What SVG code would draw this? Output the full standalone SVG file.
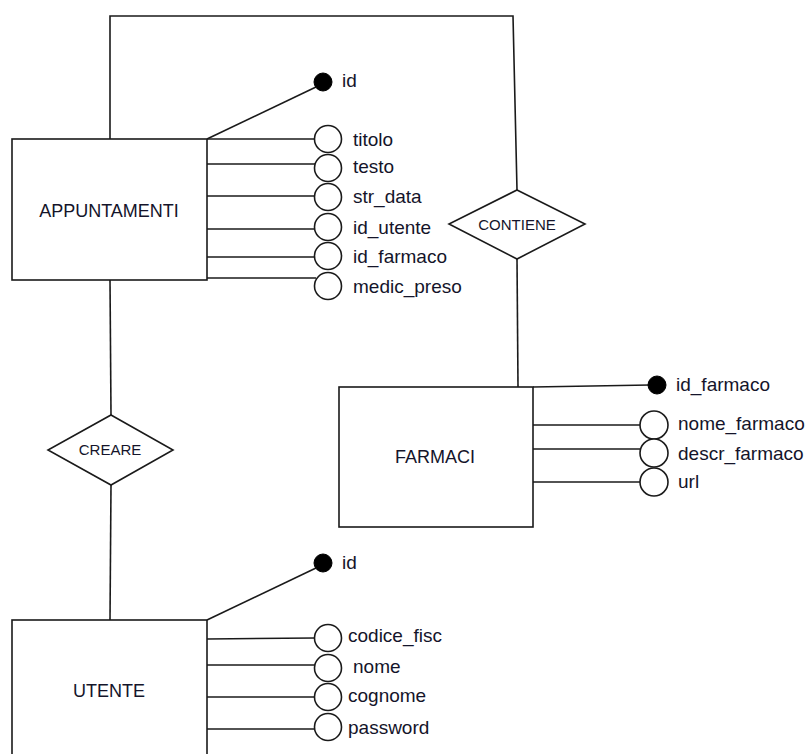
<svg xmlns="http://www.w3.org/2000/svg" width="809" height="754" viewBox="0 0 809 754">
<style>
.ln{stroke:#1a1a1a;stroke-width:1.6;fill:none}
.box{stroke:#1a1a1a;stroke-width:1.6;fill:#fff}
.att{stroke:#1a1a1a;stroke-width:1.6;fill:#fff}
.key{fill:#000;stroke:#000;stroke-width:1}
.t{font-family:"Liberation Sans",Arial,sans-serif;fill:#14142a}
.a{font-size:19px}
.e{font-size:18px;text-anchor:middle}
.r{font-size:15px;text-anchor:middle}
</style>
<rect width="809" height="754" fill="#fff"/>
<g id="connectors">
<polyline class="ln" points="110,139 110,16 513,16 517,190"/>
<line class="ln" x1="517" y1="259" x2="518" y2="387"/>
<line class="ln" x1="110" y1="280" x2="111" y2="415"/>
<line class="ln" x1="111" y1="485" x2="110" y2="620"/>
</g>
<g id="appuntamenti">
<line class="ln" x1="207" y1="139" x2="316" y2="87"/>
<line class="ln" x1="207" y1="139" x2="315" y2="139"/>
<line class="ln" x1="207" y1="164" x2="315" y2="164"/>
<line class="ln" x1="207" y1="196" x2="315" y2="196"/>
<line class="ln" x1="207" y1="229" x2="315" y2="229"/>
<line class="ln" x1="207" y1="257" x2="315" y2="257"/>
<line class="ln" x1="207" y1="278" x2="316" y2="278"/>
<rect class="box" x="12" y="139" width="195" height="141"/>
<text class="t e" x="109" y="217">APPUNTAMENTI</text>
<circle class="key" cx="323" cy="82" r="9"/>
<text class="t a" x="342" y="87">id</text>
<circle class="att" cx="328" cy="139" r="13.5"/>
<circle class="att" cx="328" cy="168" r="13.5"/>
<circle class="att" cx="328" cy="197" r="13.5"/>
<circle class="att" cx="328" cy="227" r="13.5"/>
<circle class="att" cx="328" cy="256" r="13.5"/>
<circle class="att" cx="328" cy="286" r="13.5"/>
<text class="t a" x="353" y="146">titolo</text>
<text class="t a" x="353" y="173">testo</text>
<text class="t a" x="353" y="203">str_data</text>
<text class="t a" x="353" y="234">id_utente</text>
<text class="t a" x="353" y="263">id_farmaco</text>
<text class="t a" x="353" y="293">medic_preso</text>
</g>
<g id="contiene">
<polygon class="box" points="517,190 585,224 517,259 449,224"/>
<text class="t r" x="517" y="230">CONTIENE</text>
</g>
<g id="creare">
<polygon class="box" points="111,415 173,450 111,485 48,450"/>
<text class="t r" x="110" y="455">CREARE</text>
</g>
<g id="farmaci">
<line class="ln" x1="533" y1="387" x2="650" y2="385"/>
<line class="ln" x1="533" y1="425" x2="640" y2="425"/>
<line class="ln" x1="533" y1="449" x2="640" y2="449"/>
<line class="ln" x1="533" y1="482" x2="640" y2="482"/>
<rect class="box" x="339" y="387" width="194" height="140"/>
<text class="t e" x="435" y="463">FARMACI</text>
<circle class="key" cx="657" cy="385" r="9"/>
<text class="t a" x="676" y="391">id_farmaco</text>
<circle class="att" cx="654" cy="425" r="14"/>
<circle class="att" cx="654" cy="453" r="14"/>
<circle class="att" cx="654" cy="482" r="14"/>
<text class="t a" x="678" y="430">nome_farmaco</text>
<text class="t a" x="678" y="460">descr_farmaco</text>
<text class="t a" x="678" y="488">url</text>
</g>
<g id="utente">
<line class="ln" x1="207" y1="620" x2="316" y2="568"/>
<line class="ln" x1="207" y1="639" x2="315" y2="638"/>
<line class="ln" x1="207" y1="665" x2="315" y2="665"/>
<line class="ln" x1="207" y1="697" x2="315" y2="697"/>
<line class="ln" x1="207" y1="729" x2="315" y2="729"/>
<rect class="box" x="12" y="620" width="195" height="150"/>
<text class="t e" x="109" y="697">UTENTE</text>
<circle class="key" cx="323" cy="563" r="9"/>
<text class="t a" x="342" y="569">id</text>
<circle class="att" cx="328" cy="638" r="13.5"/>
<circle class="att" cx="328" cy="668" r="13.5"/>
<circle class="att" cx="328" cy="697" r="13.5"/>
<circle class="att" cx="328" cy="727" r="13.5"/>
<text class="t a" x="348" y="642">codice_fisc</text>
<text class="t a" x="353" y="673">nome</text>
<text class="t a" x="348" y="702">cognome</text>
<text class="t a" x="348" y="734">password</text>
</g>
</svg>
